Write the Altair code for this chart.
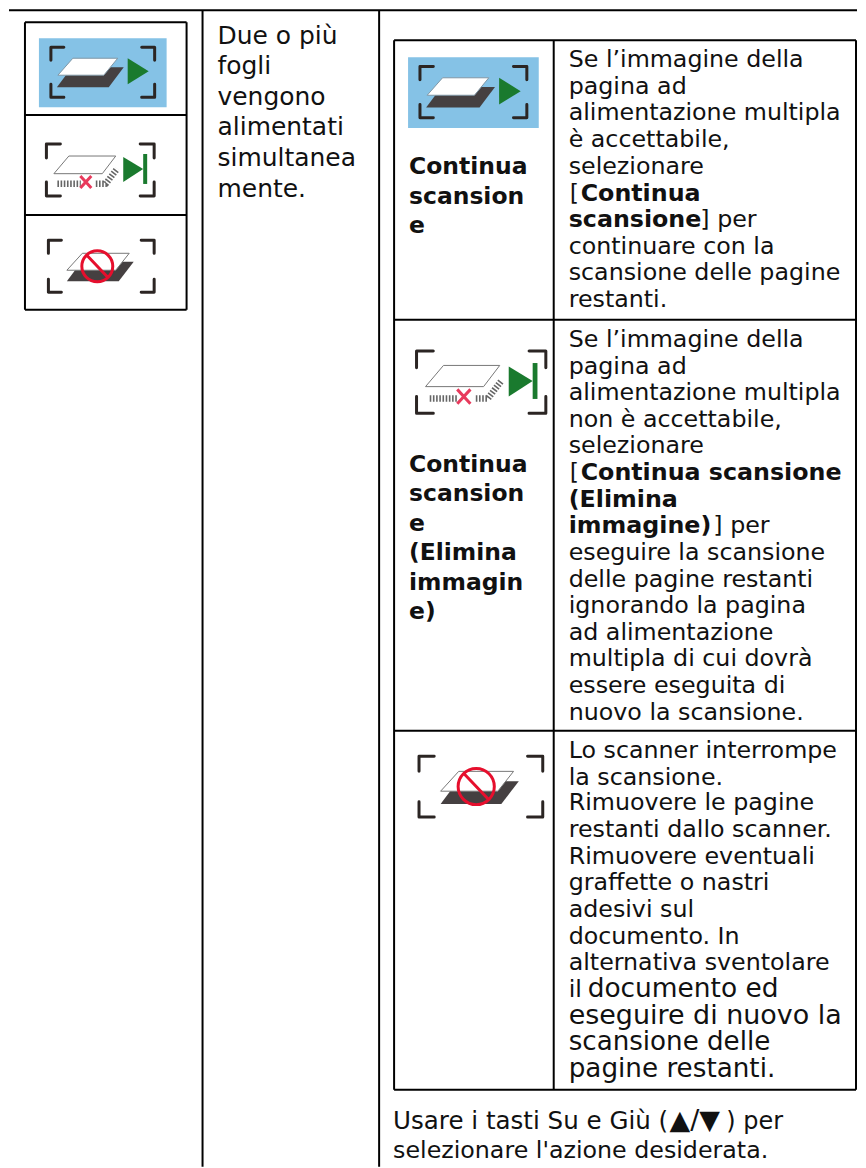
import altair as alt
import pandas as pd

FONT = "DejaVu Sans"
X_DOMAIN = [8, 858]
Y_DOMAIN = [1168, 8]

# ---- text content -------------------------------------------------------
col2_lines = ["Due o più", "fogli", "vengono", "alimentati", "simultanea", "mente."]
cell1_lines = ["Se l’immagine della", "pagina ad", "alimentazione multipla", "è accettabile,",
               "selezionare", "continuare con la", "scansione delle pagine", "restanti."]
cell2_lines = ["Se l’immagine della", "pagina ad", "alimentazione multipla", "non è accettabile,",
               "selezionare", "eseguire la scansione", "delle pagine restanti", "ignorando la pagina",
               "ad alimentazione", "multipla di cui dovrà", "essere eseguita di", "nuovo la scansione."]
cell3_lines = ["Lo scanner interrompe", "la scansione.", "Rimuovere le pagine", "restanti dallo scanner.",
               "Rimuovere eventuali", "graffette o nastri", "adesivi sul", "documento. In",
               "alternativa sventolare", "il"]
cell3_big = ["documento ed", "eseguire di nuovo la", "scansione delle", "pagine restanti."]
foot_run1 = ["Usare i tasti Su e Giù ("]
foot_run2 = ["▲/▼"]
foot_run3 = [") per"]
foot_line2 = ["selezionare l'azione desiderata."]
bold_labels = ["Continua", "scansion", "e", "Continua", "scansion", "e", "(Elimina", "immagin", "e)"]
bold_inline = ["Continua", "scansione", "Continua scansione", "(Elimina", "immagine)"]
plain_inline = ["[", "] per", "[", "] per"]

# ---- layout -------------------------------------------------------------
col2_y = [43, 73, 104, 134, 165, 196]
cell1_y = [66, 93, 119, 146, 173, 253, 279, 306]
cell2_y = [346.5, 373, 400, 426.5, 453, 560, 586.5, 613, 640, 666.5, 693, 720]
cell3_y = [758, 785, 811, 838, 865, 891, 918, 945, 971, 998]
cell3_big_y = [998, 1025, 1051, 1078]
cell3_big_x = [588, 569, 569, 569]
cell3_big_size = [26.5, 27, 26.2, 26.3]
foot_y = [1130, 1159]
label_y = [173, 203, 232, 472, 501, 531, 560, 590, 619]
inline_bold_x = [581, 569, 581, 569, 569]
inline_bold_y = [200, 226, 480, 506.5, 533]
inline_plain_x = [570, 701, 570, 714]
inline_plain_y = [200, 226, 480, 533]

rows = []
def add(lines, x, ys, size, weight="normal"):
    xs = x if isinstance(x, list) else [x] * len(lines)
    ss = size if isinstance(size, list) else [size] * len(lines)
    for t, xx, yy, s in zip(lines, xs, ys, ss):
        rows.append({"t": t, "x": xx, "y": yy, "s": s, "w": weight})

add(col2_lines, 217, col2_y, 25)
add(cell1_lines, 569, cell1_y, 23.8)
add(cell2_lines, 569, cell2_y, 23.8)
add(cell3_lines, 569, cell3_y, 23.8)
add(cell3_big, cell3_big_x, cell3_big_y, cell3_big_size)
add(foot_run1, 393, foot_y[:1], 24.6)
add(foot_run2, 670, foot_y[:1], 27)
add(foot_run3, 727, foot_y[:1], 24)
add(foot_line2, 393, foot_y[1:], 23.8)
add(bold_labels, 409, label_y, 23.5, "bold")
add(bold_inline, inline_bold_x, inline_bold_y, 23.8, "bold")
add(plain_inline, inline_plain_x, inline_plain_y, 23.8)
text_df = pd.DataFrame(rows)

xs = alt.Scale(domain=X_DOMAIN, nice=False, zero=False)
ys = alt.Scale(domain=Y_DOMAIN, nice=False, zero=False)
X = lambda f: alt.X(f, scale=xs, axis=None)
Y = lambda f: alt.Y(f, scale=ys, axis=None)

# horizontal and vertical rules
h_x1 = [8, 24, 24, 24, 24, 394, 394, 394, 394]
h_x2 = [858, 186, 186, 186, 186, 857, 857, 857, 857]
h_y = [9, 21, 114, 214, 309, 39, 319, 731, 1091]
v_x = [202, 379, 24, 186, 394, 554, 857]
v_y1 = [9, 9, 21, 21, 39, 39, 39]
v_y2 = [1168, 1168, 309, 309, 1091, 1091, 1091]
h_df = pd.DataFrame({"x": h_x1, "x2": h_x2, "y": h_y})
v_df = pd.DataFrame({"x": v_x, "y": v_y1, "y2": v_y2})
h_rules = alt.Chart(h_df).mark_rule(color="#000", strokeWidth=2).encode(X("x:Q"), x2="x2:Q", y=Y("y:Q"))
v_rules = alt.Chart(v_df).mark_rule(color="#000", strokeWidth=2).encode(X("x:Q"), y=Y("y:Q"), y2="y2:Q")

# icon backgrounds
bg_df = pd.DataFrame({"x": [38, 408], "x2": [166, 539], "y": [37, 56], "y2": [106, 127]})
bg = alt.Chart(bg_df).mark_rect(color="#85c2e6").encode(X("x:Q"), x2="x2:Q", y=Y("y:Q"), y2="y2:Q")

# icon placements: centre x, centre y, scale
ICON1 = pd.DataFrame({"x": [102, 473.5], "y": [71, 91], "k": [1.0, 1.03]})
ICON2 = pd.DataFrame({"x": [99.5, 481.3], "y": [169, 381.7], "k": [1.0, 1.2]})
ICON3 = pd.DataFrame({"x": [100.5, 481], "y": [265.5, 787], "k": [1.0, 1.17]})

def bracket(w, h, a):
    return (f"M{-w+a},{-h}L{-w},{-h}L{-w},{-h+a}"
            f"M{w-a},{-h}L{w},{-h}L{w},{-h+a}"
            f"M{-w+a},{h}L{-w},{h}L{-w},{h-a}"
            f"M{w-a},{h}L{w},{h}L{w},{h-a}")

def part(df, path, **style):
    d = df.assign(size=lambda q: 4 * q["k"] ** 2)
    base = dict(shape=path, opacity=1, fillOpacity=1, strokeJoin="round")
    base.update(style)
    filled = "fill" in style
    return alt.Chart(d).mark_point(filled=filled, **base).encode(
        X("x:Q"), Y("y:Q"), size=alt.Size("size:Q", scale=None, legend=None))

DARK = "#2b2523"
GREEN = "#1a7a2e"
RED = "#e60f2d"
icon_parts = [
    # icon 1
    part(ICON1, "M-46,15L6,15L21,-5L-31,-5Z", fill="#454041", strokeWidth=0),
    part(ICON1, "M-30,-14L15,-14L1,3L-45,3Z", fill="#ffffff", stroke="#7f97a6", strokeWidth=1),
    part(ICON1, "M25,-14L46,-1L25,12Z", fill=GREEN, strokeWidth=0),
    part(ICON1, bracket(52, 25, 13), stroke=DARK, strokeWidth=3, strokeCap="round"),
    # icon 2
    part(ICON2, "M-31.5,-14L15.5,-14L2,3.7L-46.5,3.7Z", fill="#ffffff", stroke="#777777", strokeWidth=1),
    part(ICON2, "M-43,13.7L-19.5,13.7M-4.5,13.7L5.5,13.7L17,-1.3", stroke="#666666", strokeWidth=6.5, strokeDash=[1.6, 1.6]),
    part(ICON2, "M-20,6L-9,18M-9,6L-20,18", stroke="#e83a5c", strokeWidth=3),
    part(ICON2, "M23,-13L43,-1L23,12Z", fill=GREEN, strokeWidth=0),
    part(ICON2, "M43,-16L47,-16L47,14L43,14Z", fill=GREEN, strokeWidth=0),
    part(ICON2, bracket(54, 26, 14), stroke=DARK, strokeWidth=3, strokeCap="round"),
    # icon 3
    part(ICON3, "M-34.5,15L17.5,15L32.5,-4.5L-20,-4.5Z", fill="#454041", strokeWidth=0),
    part(ICON3, "M-19,-13L28,-13L14.5,4L-34.5,4Z", fill="#ffffff", stroke="#777777", strokeWidth=1),
    part(ICON3, "M11.5,0A15.5,15.5 0 1 1 -19.5,0A15.5,15.5 0 1 1 11.5,0ZM-14,-10.5L6,10.5", stroke=RED, strokeWidth=3),
    part(ICON3, bracket(53, 26, 13), stroke=DARK, strokeWidth=3, strokeCap="round"),
]

texts = []
for (s, w), g in text_df.groupby(["s", "w"]):
    texts.append(
        alt.Chart(g).mark_text(align="left", baseline="alphabetic", font=FONT, fontSize=float(s),
                               fontWeight=w, color="#111111")
        .encode(X("x:Q"), Y("y:Q"), text="t:N"))

chart = alt.layer(h_rules, v_rules, bg, *icon_parts, *texts).properties(
    width=850, height=1160, padding=0, background="white"
).configure_view(stroke=None)

chart.save("out.html", embed_options={"renderer": "svg", "actions": False})
